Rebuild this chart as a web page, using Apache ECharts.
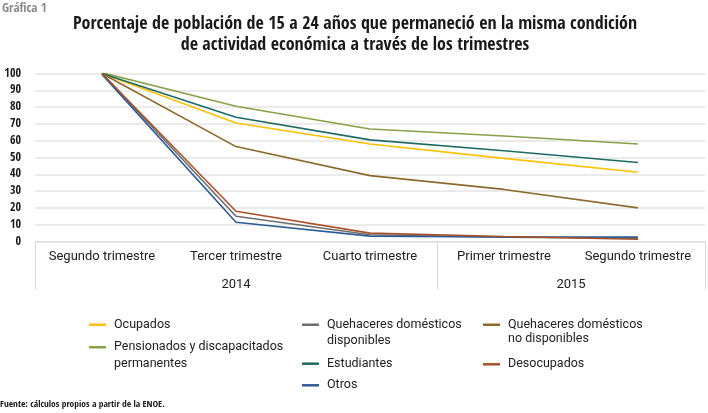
<!DOCTYPE html>
<html><head><meta charset="utf-8">
<script src="https://cdn.jsdelivr.net/npm/echarts@6/dist/echarts.min.js"></script>
<style>html,body{margin:0;padding:0;background:#fff}#c{width:708px;height:413px}</style>
</head><body><div id="c"></div>
<script>
const categories = ['Segundo trimestre','Tercer trimestre','Cuarto trimestre','Primer trimestre','Segundo trimestre'];
const yearLabels = ['2014','2015'];
const yTicks = [0,10,20,30,40,50,60,70,80,90,100];
const ocupados = [100, 70.5, 58, 49.5, 41.2];
const pensionados = [100.5, 80.5, 67, 62.8, 58];
const qdDisponibles = [100, 15, 4, 2.5, 2];
const estudiantes = [100, 74, 60.5, 54, 47];
const otros = [99.5, 11.5, 3.2, 2.7, 2.6];
const qdNoDisponibles = [100, 56.5, 39.2, 31, 20];
const desocupados = [100, 18, 5, 3, 1.3];

const COND = '"Open Sans Condensed","Roboto Condensed",sans-serif';
const REG = 'Roboto,sans-serif';
const series = [
  {name:'Ocupados', data:ocupados, color:'#FFC000'},
  {name:'Pensionados y discapacitados\npermanentes', data:pensionados, color:'#86A24A'},
  {name:'Quehaceres domésticos\ndisponibles', data:qdDisponibles, color:'#6E6E6E'},
  {name:'Estudiantes', data:estudiantes, color:'#1E6B66'},
  {name:'Otros', data:otros, color:'#2F5B95'},
  {name:'Quehaceres domésticos\nno disponibles', data:qdNoDisponibles, color:'#8B6A2B'},
  {name:'Desocupados', data:desocupados, color:'#A9522A'}
];
// legend placement: [series index, left, first-line centre y, lineHeight, lines]
const legendPlaces = [
  [0, 89, 324.7, 16, 1],
  [1, 89, 347.3, 17, 2],
  [2, 302, 324.7, 16, 2],
  [3, 302, 363.7, 16, 1],
  [4, 302, 385.3, 16, 1],
  [5, 483, 324.7, 14, 2],
  [6, 483, 364.3, 16, 1]
];
function barIcon(lh, lines){
  // thin bar aligned with the first text line, inside a box as tall as the text block
  const h = lh * lines, c = lh / 2, t = 1.25;
  return 'path://M0,' + (c - t) + ' L17,' + (c - t) + ' L17,' + (c + t) + ' L0,' + (c + t) + ' Z' +
         ' M0,0 L0.01,0 L0.01,0.01 Z M16.99,' + h + ' L17,' + h + ' L17,' + (h - 0.01) + ' Z';
}
const legends = legendPlaces.map(p => {
  const multi = p[4] > 1;
  return {
    orient:'vertical', padding:0, selectedMode:false,
    icon: multi ? barIcon(p[3], p[4]) : 'rect',
    itemWidth:17, itemHeight: multi ? p[3] * p[4] : 2.5,
    left:p[1], top: multi ? p[2] - p[3] / 2 : p[2] - p[3] / 2,
    textStyle:{fontFamily:REG, fontSize:12.5, color:'#222', lineHeight:p[3], padding:[0,0,0,3]},
    data:[series[p[0]].name]
  };
});
const chart = echarts.init(document.getElementById('c'));
chart.setOption({
  animation:false,
  title:[
    {text:'Gráfica 1', left:2, top:2, padding:0, textStyle:{fontFamily:COND, fontSize:13, fontWeight:'bold', color:'#8a8a8a'}},
    {text:'Porcentaje de población de 15 a 24 años que permaneció en la misma condición\nde actividad económica a través de los trimestres',
     left:355, textAlign:'center', top:14, padding:0, textStyle:{fontFamily:COND, fontSize:18, fontWeight:'bold', color:'#1a1a1a', lineHeight:21}},
    {text:'Fuente: cálculos propios a partir de la ENOE.', left:0, top:400, padding:0, textStyle:{fontFamily:COND, fontSize:9.5, fontWeight:'bold', color:'#1a1a1a'}}
  ],
  legend:legends,
  grid:{left:35, right:3, top:73.5, bottom:171.5, containLabel:false},
  xAxis:[
    {type:'category', data:categories, boundaryGap:true, position:'bottom',
     axisLine:{show:true, lineStyle:{color:'#d9d9d9', width:1}},
     axisTick:{show:false},
     axisLabel:{fontFamily:REG, fontSize:13, color:'#222', margin:8.5, interval:0}},
    {type:'value', min:0, max:5, position:'bottom',
     axisLine:{show:false}, splitLine:{show:false},
     axisTick:{show:true, customValues:[0,3,5], length:48, inside:false, lineStyle:{color:'#d9d9d9'}},
     axisLabel:{customValues:[1.5,4], margin:36.5, fontFamily:REG, fontSize:13, color:'#222',
       formatter:function(v){ return v < 3 ? yearLabels[0] : yearLabels[1]; }}}
  ],
  yAxis:{type:'value', min:0, max:100, interval:10,
    axisLine:{show:false}, axisTick:{show:false},
    splitLine:{lineStyle:{color:'#ebebeb', width:2}},
    axisLabel:{fontFamily:COND, fontSize:12, fontWeight:'bold', color:'#1a1a1a', margin:14,
      formatter:function(v){ return yTicks.indexOf(v) >= 0 ? String(v) : ''; }}},
  series: series.map(s => ({
    type:'line', name:s.name, data:s.data, xAxisIndex:0, showSymbol:false, symbol:'none',
    itemStyle:{color:s.color}, lineStyle:{color:s.color, width:1.6}
  }))
});
</script></body></html>
